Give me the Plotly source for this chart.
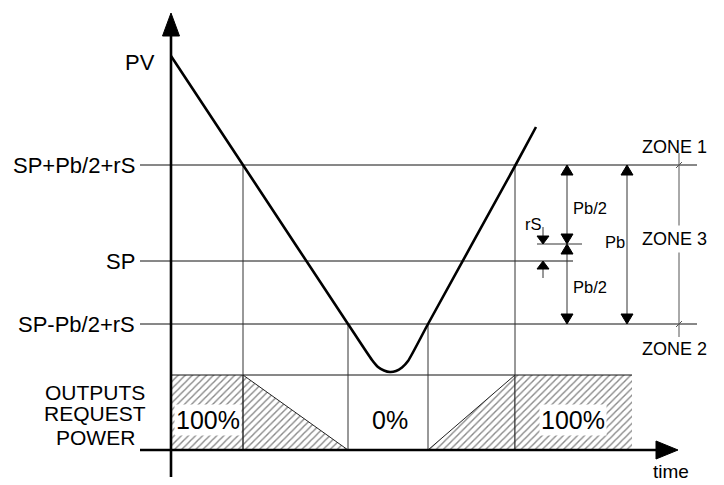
import plotly.graph_objects as go

# ---- diagram values (time units along x, level units along y) ----
level_names = ["PV", "SP+Pb/2+rS", "SP", "SP-Pb/2+rS"]
level_values = [394, 285, 189, 126]
sp_plus_rs = 206
output_level = 75
switch_times = [72, 177, 257, 344]
hatch_end = 461
time_end = 507
level_top = 437

# process variable trace
pv_t = [0, 72, 177, 201, 207, 213, 219, 225, 231, 237, 257, 344, 365]
pv_y = [394, 285, 126, 90, 83, 79.5, 78, 79, 82.5, 89, 126, 284, 323]

# output request power (percent labels over the three zones)
output_labels = ["100%", "0%", "100%"]
output_label_t = [37, 219, 402]

# dimension annotations on the right
dim_x = {"rS": 372, "Pb/2": 396, "Pb": 456, "zone": 508}
zone_names = ["ZONE 1", "ZONE 3", "ZONE 2"]
zone_label_y = [303, 211, 101]

FONT = "Liberation Sans, Arial, sans-serif"
fig = go.Figure()

def line(xs, ys, width=1, color="#222"):
    fig.add_trace(go.Scatter(x=xs, y=ys, mode="lines", hoverinfo="skip",
                             line=dict(color=color, width=width)))

def tri(tip_x, tip_y, direction, length=10, half=6):
    if direction == "up":
        xs = [tip_x, tip_x - half, tip_x + half, tip_x]
        ys = [tip_y, tip_y - length, tip_y - length, tip_y]
    elif direction == "down":
        xs = [tip_x, tip_x - half, tip_x + half, tip_x]
        ys = [tip_y, tip_y + length, tip_y + length, tip_y]
    else:  # right
        xs = [tip_x, tip_x - length, tip_x - length, tip_x]
        ys = [tip_y, tip_y + half, tip_y - half, tip_y]
    fig.add_trace(go.Scatter(x=xs, y=ys, mode="lines", fill="toself",
                             fillcolor="black", hoverinfo="skip",
                             line=dict(color="black", width=1)))

hatch = dict(shape="/", size=5, solidity=0.28, fgcolor="#111", bgcolor="white")

def hatched(xs, ys, outline=0):
    fig.add_trace(go.Scatter(x=xs, y=ys, mode="lines", fill="toself",
                             fillpattern=hatch, fillcolor="white", hoverinfo="skip",
                             line=dict(color="#222", width=outline)))

t_a, t_b, t_c, t_d = switch_times
pv, sp_hi, sp, sp_lo = level_values

# hatched output regions
hatched([0, t_a, t_a, 0, 0], [0, 0, output_level, output_level, 0])
hatched([t_a, t_b, t_a, t_a], [output_level, 0, 0, output_level], outline=1)
hatched([t_c, t_d, t_d, t_c], [0, output_level, 0, 0], outline=1)
hatched([t_d, hatch_end, hatch_end, t_d, t_d], [0, 0, output_level, output_level, 0])

# horizontal reference lines
line([-31, 526], [sp_hi, sp_hi], color="#111")
line([-31, 402], [sp, sp], color="#111")
line([-31, 526], [sp_lo, sp_lo], color="#111")
line([0, hatch_end], [output_level, output_level], color="#111")

# vertical switch-time lines
line([t_a, t_a], [0, sp_hi], color="#333")
line([t_b, t_b], [0, sp_lo], color="#333")
line([t_c, t_c], [0, sp_lo], color="#333")
line([t_d, t_d], [0, sp_hi], color="#333")

# PV curve
fig.add_trace(go.Scatter(x=pv_t, y=pv_y, mode="lines", hoverinfo="skip",
                         line=dict(color="black", width=2.6, shape="spline", smoothing=0.6)))

# axes with arrows
line([0, 0], [-27, level_top - 20], width=2.6, color="black")
tri(0, level_top, "up", length=23, half=8.5)
line([-31, time_end - 20], [0, 0], width=2.6, color="black")
tri(time_end, 0, "right", length=22, half=9)

# dimension: Pb
xp = dim_x["Pb"]
line([xp, xp], [sp_lo + 5, sp_hi - 5], color="#333")
tri(xp, sp_hi, "up")
tri(xp, sp_lo, "down")
# dimension: Pb/2 (two halves)
xh = dim_x["Pb/2"]
line([xh, xh], [sp_lo + 5, sp_hi - 5], color="#333")
tri(xh, sp_hi, "up")
tri(xh, sp_plus_rs, "down")
tri(xh, sp_plus_rs, "up")
tri(xh, sp_lo, "down")
line([366, 411], [sp_plus_rs, sp_plus_rs], color="#333")
# dimension: rS
xr = dim_x["rS"]
line([xr, xr], [sp_plus_rs + 5, 223], color="#333")
tri(xr, sp_plus_rs, "down", length=8)
line([xr, xr], [172, sp - 5], color="#333")
tri(xr, sp, "up", length=8)
# zone line with ticks
xz = dim_x["zone"]
line([xz, xz], [113, 297], color="#555")
line([xz - 3, xz + 3], [sp_hi - 3, sp_hi + 3], color="#555")
line([xz - 3, xz + 3], [sp_lo - 3, sp_lo + 3], color="#555")

ann = []
def text(x, y, s, size, xanchor="center", bg=None, pad=1, yanchor="middle"):
    d = dict(x=x, y=y, text=s, showarrow=False, xanchor=xanchor, yanchor=yanchor,
             font=dict(family=FONT, size=size, color="black"))
    if bg:
        d.update(bgcolor=bg, borderpad=pad)
    ann.append(d)

# left level labels
label_y = [388, sp_hi, sp, sp_lo]
label_x = [-14, -34, -34, -34]
for nm, yy, xx in zip(level_names, label_y, label_x):
    text(xx, yy, nm, 22, xanchor="right")

for s, yy in zip(["OUTPUTS", "REQUEST", "POWER"], [58, 37, 13]):
    text(-76, yy, s, 21)

for s, tt in zip(output_labels, output_label_t):
    text(tt, 30, s, 25, bg="white" if s != "0%" else None, pad=1)

text(500, -34, "time", 19, yanchor="bottom", pad=0)
text(dim_x["Pb/2"] + 23, 242, "Pb/2", 16.5)
text(dim_x["Pb/2"] + 23, 163, "Pb/2", 16.5)
text(dim_x["Pb"] - 12, 208, "Pb", 16.5)
text(dim_x["rS"] - 10, 226, "rS", 16.5)
for zn, zy in zip(zone_names, zone_label_y):
    text(503, zy, zn, 18, bg="white" if zn == "ZONE 3" else None, pad=3)

# the page body has an 8px margin, so the figure sits at (8, 8) in the window
fig.update_layout(
    width=716, height=477, autosize=False,
    margin=dict(l=0, r=0, t=0, b=0),
    paper_bgcolor="white", plot_bgcolor="white",
    showlegend=False, annotations=ann,
    xaxis=dict(range=[-163, 553], visible=False, fixedrange=True),
    yaxis=dict(range=[-35, 442], visible=False, fixedrange=True),
)
fig.write_html("out.html", config={"displayModeBar": False})
